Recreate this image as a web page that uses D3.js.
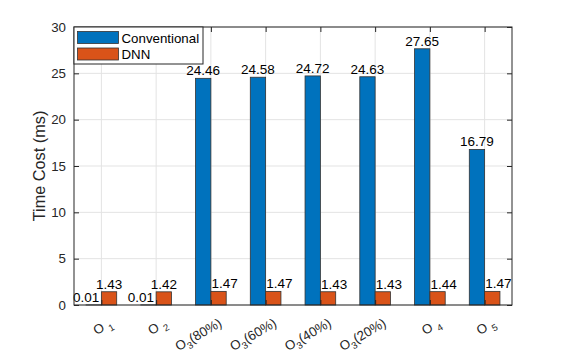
<!DOCTYPE html>
<html>
<head>
<meta charset="utf-8">
<script src="https://cdn.jsdelivr.net/npm/d3@7"></script>
<style>
  body { margin: 0; background: #fff; }
  svg text { font-family: "Liberation Sans", Arial, Helvetica, sans-serif; fill: #262626; }
</style>
</head>
<body>
<svg id="chart" width="565" height="358"></svg>
<script>
// data
const categories = ['O _1', 'O _2', 'O_3(80%)', 'O_3(60%)', 'O_3(40%)', 'O_3(20%)', 'O _4', 'O _5'];
const conventional = [0.01, 0.01, 24.46, 24.58, 24.72, 24.63, 27.65, 16.79];
const dnn = [1.43, 1.42, 1.47, 1.47, 1.43, 1.43, 1.44, 1.47];
const seriesNames = ['Conventional', 'DNN'];
const seriesColors = ['#0072BD', '#D95319'];
const yTicks = [0, 5, 10, 15, 20, 25, 30];

const margin = {left: 74, top: 27, right: 53, bottom: 53};
const width = 565 - margin.left - margin.right;
const height = 358 - margin.top - margin.bottom;
const axisColor = '#262626';
const barW = 0.28;

const svg = d3.select('#chart');
const g = svg.append('g').attr('transform', `translate(${margin.left},${margin.top})`);

const sx = d3.scaleLinear().domain([0.5, categories.length + 0.5]).range([0, width]);
const sy = d3.scaleLinear().domain([0, 30]).range([height, 0]);
const idx = d3.range(1, categories.length + 1);

// grid
g.append('g').selectAll('line').data(idx).join('line')
  .attr('x1', d => sx(d)).attr('x2', d => sx(d))
  .attr('y1', 0).attr('y2', height)
  .style('stroke', '#e3e3e3').style('stroke-width', 1);
g.append('g').selectAll('line').data(yTicks).join('line')
  .attr('x1', 0).attr('x2', width)
  .attr('y1', d => sy(d)).attr('y2', d => sy(d))
  .style('stroke', '#e3e3e3').style('stroke-width', 1);

// bars
const series = [conventional, dnn];
series.forEach(function(vals, s) {
  g.append('g').selectAll('rect').data(vals).join('rect')
    .attr('x', (d, i) => sx(i + 1 + (s === 0 ? -barW : 0)))
    .attr('width', sx(barW) - sx(0))
    .attr('y', d => sy(d))
    .attr('height', d => sy(0) - sy(d))
    .style('fill', seriesColors[s])
    .style('stroke', '#333')
    .style('stroke-width', 0.8);
});

// value labels: nudged aside where the neighbouring bar would cover them
g.append('g').selectAll('text').data(conventional).join('text')
  .attr('x', (d, i) => d < dnn[i] ? sx(i + 1) - 2 : sx(i + 1 - barW / 2))
  .attr('y', d => sy(d) - 3)
  .attr('text-anchor', (d, i) => d < dnn[i] ? 'end' : 'middle')
  .style('font-size', '13.5px')
  .style('fill', '#000')
  .text(d => d.toFixed(2));
g.append('g').selectAll('text').data(dnn).join('text')
  .attr('x', (d, i) => conventional[i] > d ? sx(i + 1) + 0.5 : sx(i + 1 + barW / 2))
  .attr('y', d => sy(d) - 3)
  .attr('text-anchor', (d, i) => conventional[i] > d ? 'start' : 'middle')
  .style('font-size', '13.5px')
  .style('fill', '#000')
  .text(d => d.toFixed(2));

// axes box with inward ticks
const yAxisL = d3.axisLeft(sy).tickValues(yTicks).tickSizeInner(-5).tickSizeOuter(0).tickPadding(8);
const yAxisR = d3.axisRight(sy).tickValues(yTicks).tickSizeInner(-5).tickSizeOuter(0).tickFormat('');
const xAxisB = d3.axisBottom(sx).tickValues(idx).tickSizeInner(-5).tickSizeOuter(0).tickFormat('');
const xAxisT = d3.axisTop(sx).tickValues(idx).tickSizeInner(-5).tickSizeOuter(0).tickFormat('');

g.append('g').attr('class', 'y axis').call(yAxisL);
g.append('g').attr('transform', `translate(${width},0)`).call(yAxisR);
g.append('g').attr('transform', `translate(0,${height})`).call(xAxisB);
g.append('g').call(xAxisT);
g.selectAll('.domain').remove();
g.selectAll('.tick line').style('stroke', axisColor);
g.selectAll('.y.axis .tick text').style('font-size', '13.3px').style('fill', axisColor);

g.append('rect')
  .attr('width', width).attr('height', height)
  .style('fill', 'none').style('stroke', axisColor).style('stroke-width', 1);

// rotated category labels with subscripts
const xl = g.append('g').selectAll('g').data(categories).join('g')
  .attr('transform', (d, i) => `translate(${sx(i + 1) + 7},${height + 12}) rotate(-30)`);
xl.each(function(d) {
  const parts = d.split('_');
  const t = d3.select(this).append('text')
    .attr('text-anchor', 'end')
    .attr('y', 10)
    .style('font-size', '13.3px')
    .style('fill', axisColor);
  t.append('tspan').text(parts[0]);
  t.append('tspan').attr('dy', 4).style('font-size', '9.5px').text(parts[1][0]);
  if (parts[1].length > 1) {
    t.append('tspan').attr('dy', -4).text(parts[1].slice(1));
  }
});

// y label
svg.append('text')
  .attr('transform', `translate(45,${margin.top + height / 2}) rotate(-90)`)
  .attr('text-anchor', 'middle')
  .style('font-size', '16.3px')
  .style('fill', axisColor)
  .text('Time Cost (ms)');

// legend
const lg = g.append('g');
lg.append('rect')
  .attr('x', 0).attr('y', 0).attr('width', 129).attr('height', 37)
  .style('fill', '#fff').style('stroke', axisColor).style('stroke-width', 1);
seriesNames.forEach(function(name, s) {
  lg.append('rect')
    .attr('x', 3.5).attr('y', 4.5 + s * 16.5).attr('width', 41).attr('height', 12)
    .style('fill', seriesColors[s]).style('stroke', '#333').style('stroke-width', 0.8);
  lg.append('text')
    .attr('x', 47.5).attr('y', 15.5 + s * 16.5)
    .style('font-size', '13.3px')
    .style('fill', '#000')
    .text(name);
});
</script>
</body>
</html>
